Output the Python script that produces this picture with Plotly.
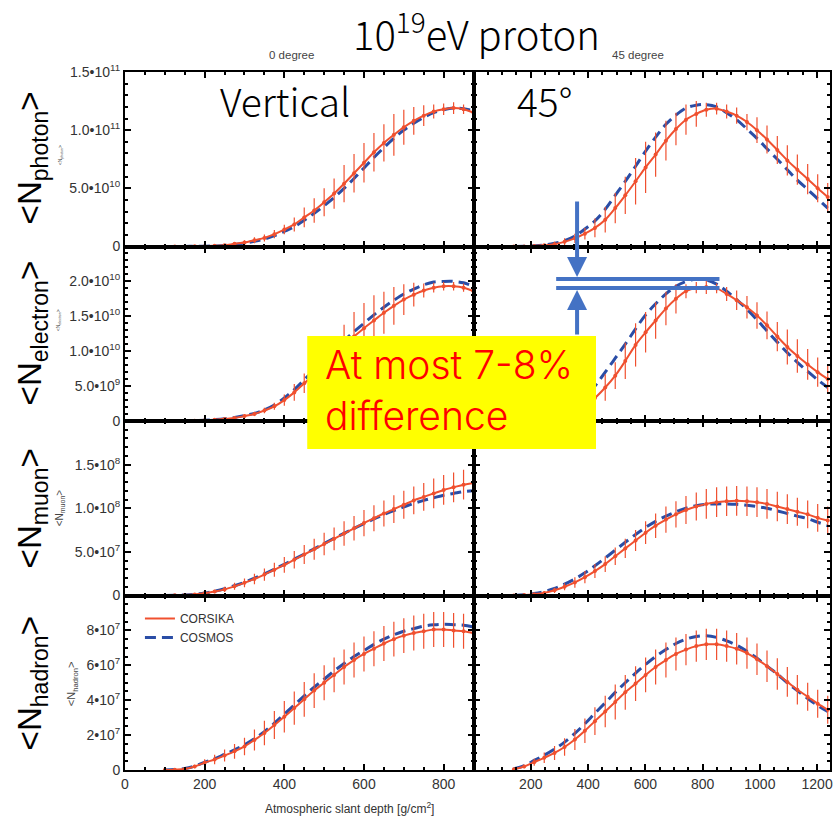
import plotly.graph_objects as go
from plotly.subplots import make_subplots

# vertical depth grid (0 degree) and slant depth grid (45 degree), g/cm2
DEPTH_V = [100, 125, 150, 175, 200, 225, 250, 275, 300, 325, 350, 375, 400, 425, 450, 475,
           500, 525, 550, 575, 600, 625, 650, 675, 700, 725, 750, 775, 800, 825, 850, 875]
SLANT_45 = [141, 177, 212, 247, 283, 318, 354, 389, 424, 460, 495, 530, 566, 601, 636, 672,
            707, 742, 778, 813, 849, 884, 919, 955, 990, 1025, 1061, 1096, 1131, 1167, 1202, 1237]

# photon, units of 1e11
PHOTON_V_CORSIKA = [0, 0, 0.001, 0.002, 0.003, 0.006, 0.01, 0.023, 0.034, 0.054, 0.074, 0.106, 0.146, 0.19, 0.25, 0.31,
                    0.38, 0.455, 0.54, 0.63, 0.72, 0.81, 0.89, 0.96, 1.025, 1.08, 1.125, 1.16, 1.18, 1.19, 1.18, 1.15]
PHOTON_V_COSMOS = [0, 0, 0.001, 0.002, 0.003, 0.005, 0.009, 0.018, 0.028, 0.045, 0.065, 0.093, 0.13, 0.17, 0.225, 0.285,
                   0.35, 0.42, 0.50, 0.585, 0.675, 0.765, 0.85, 0.93, 1.0, 1.06, 1.11, 1.15, 1.175, 1.19, 1.185, 1.165]
PHOTON_V_ERR = [0, 0, 0, 0.002, 0.004, 0.006, 0.01, 0.015, 0.02, 0.025, 0.03, 0.035, 0.04, 0.06, 0.085, 0.105,
                0.12, 0.13, 0.16, 0.165, 0.17, 0.165, 0.16, 0.18, 0.15, 0.12, 0.09, 0.06, 0.05, 0.05, 0.04, 0.04]
PHOTON_45_CORSIKA = [0, 0.001, 0.004, 0.01, 0.02, 0.04, 0.07, 0.11, 0.16, 0.23, 0.33, 0.44, 0.56, 0.68, 0.79, 0.91,
                     1.01, 1.09, 1.14, 1.175, 1.185, 1.16, 1.125, 1.07, 1.0, 0.92, 0.83, 0.74, 0.66, 0.58, 0.50, 0.425]
PHOTON_45_COSMOS = [0, 0.002, 0.006, 0.013, 0.028, 0.05, 0.09, 0.15, 0.22, 0.32, 0.44, 0.56, 0.69, 0.82, 0.94, 1.05,
                    1.13, 1.19, 1.215, 1.22, 1.20, 1.15, 1.09, 1.01, 0.93, 0.84, 0.75, 0.66, 0.57, 0.49, 0.41, 0.33]
PHOTON_45_ERR = [0, 0.002, 0.005, 0.01, 0.02, 0.03, 0.04, 0.05, 0.08, 0.11, 0.13, 0.16, 0.2, 0.22, 0.19, 0.17,
                 0.14, 0.13, 0.11, 0.06, 0.05, 0.06, 0.07, 0.07, 0.11, 0.12, 0.12, 0.13, 0.13, 0.13, 0.12, 0.12]

# electron, units of 1e10
ELECTRON_V_CORSIKA = [0, 0.001, 0.002, 0.005, 0.01, 0.018, 0.03, 0.043, 0.07, 0.10, 0.15, 0.21, 0.30, 0.41, 0.54, 0.66,
                      0.80, 0.94, 1.08, 1.21, 1.33, 1.44, 1.55, 1.65, 1.74, 1.81, 1.87, 1.91, 1.93, 1.93, 1.91, 1.86]
ELECTRON_V_COSMOS = [0, 0.001, 0.003, 0.006, 0.011, 0.02, 0.033, 0.05, 0.08, 0.11, 0.16, 0.23, 0.33, 0.45, 0.59, 0.73,
                     0.87, 1.01, 1.15, 1.28, 1.40, 1.52, 1.63, 1.73, 1.82, 1.89, 1.95, 1.99, 2.0, 2.0, 1.98, 1.93]
ELECTRON_V_ERR = [0, 0, 0, 0.002, 0.005, 0.01, 0.015, 0.02, 0.025, 0.03, 0.04, 0.05, 0.08, 0.12, 0.14, 0.17,
                  0.2, 0.24, 0.3, 0.35, 0.36, 0.36, 0.3, 0.27, 0.22, 0.17, 0.1, 0.07, 0.06, 0.06, 0.06, 0.05]
ELECTRON_45_CORSIKA = [0, 0.003, 0.008, 0.018, 0.035, 0.07, 0.13, 0.22, 0.33, 0.48, 0.65, 0.86, 1.09, 1.27, 1.44, 1.61,
                       1.75, 1.86, 1.91, 1.92, 1.90, 1.82, 1.73, 1.63, 1.51, 1.37, 1.21, 1.06, 0.93, 0.81, 0.70, 0.60]
ELECTRON_45_COSMOS = [0, 0.004, 0.012, 0.028, 0.055, 0.11, 0.2, 0.33, 0.5, 0.70, 0.90, 1.10, 1.32, 1.52, 1.68, 1.82,
                      1.93, 2.0, 2.03, 2.02, 1.96, 1.86, 1.74, 1.60, 1.45, 1.29, 1.13, 0.98, 0.84, 0.71, 0.59, 0.48]
ELECTRON_45_ERR = [0, 0.002, 0.005, 0.01, 0.02, 0.04, 0.07, 0.1, 0.15, 0.19, 0.19, 0.26, 0.31, 0.29, 0.26, 0.24,
                   0.21, 0.1, 0.08, 0.1, 0.07, 0.1, 0.14, 0.16, 0.19, 0.2, 0.21, 0.25, 0.24, 0.22, 0.21, 0.2]

# muon, units of 1e8
MUON_V_CORSIKA = [0, 0.002, 0.005, 0.012, 0.025, 0.045, 0.07, 0.105, 0.145, 0.19, 0.24, 0.295, 0.35, 0.41, 0.47, 0.53,
                  0.59, 0.65, 0.71, 0.77, 0.83, 0.885, 0.94, 0.99, 1.04, 1.09, 1.13, 1.17, 1.21, 1.24, 1.27, 1.29]
MUON_V_COSMOS = [0, 0.002, 0.006, 0.014, 0.028, 0.05, 0.078, 0.112, 0.152, 0.198, 0.248, 0.302, 0.358, 0.416, 0.475, 0.535,
                 0.595, 0.655, 0.713, 0.77, 0.825, 0.877, 0.927, 0.973, 1.015, 1.055, 1.09, 1.12, 1.15, 1.17, 1.19, 1.20]
MUON_V_ERR = [0, 0.002, 0.004, 0.008, 0.012, 0.02, 0.03, 0.04, 0.05, 0.06, 0.07, 0.08, 0.09, 0.1, 0.11, 0.12,
              0.13, 0.13, 0.14, 0.14, 0.15, 0.15, 0.15, 0.16, 0.16, 0.16, 0.16, 0.17, 0.17, 0.17, 0.17, 0.17]
MUON_45_CORSIKA = [0, 0.005, 0.015, 0.03, 0.06, 0.1, 0.15, 0.21, 0.28, 0.36, 0.45, 0.54, 0.63, 0.72, 0.80, 0.87,
                   0.93, 0.98, 1.02, 1.05, 1.07, 1.08, 1.085, 1.08, 1.07, 1.05, 1.02, 0.99, 0.96, 0.93, 0.89, 0.86]
MUON_45_COSMOS = [0, 0.008, 0.022, 0.045, 0.08, 0.13, 0.19, 0.26, 0.34, 0.43, 0.52, 0.61, 0.70, 0.78, 0.85, 0.91,
                  0.96, 1.0, 1.03, 1.045, 1.05, 1.05, 1.045, 1.035, 1.02, 1.0, 0.97, 0.94, 0.91, 0.88, 0.84, 0.80]
MUON_45_ERR = [0, 0.005, 0.01, 0.02, 0.03, 0.04, 0.06, 0.07, 0.08, 0.09, 0.1, 0.11, 0.12, 0.13, 0.14, 0.15,
               0.15, 0.16, 0.16, 0.17, 0.17, 0.17, 0.17, 0.17, 0.17, 0.17, 0.17, 0.17, 0.16, 0.16, 0.16, 0.16]

# hadron, units of 1e7
HADRON_V_CORSIKA = [0, 0.02, 0.06, 0.2, 0.42, 0.6, 0.83, 1.07, 1.35, 1.72, 2.12, 2.58, 3.05, 3.55, 4.05, 4.55,
                    5.0, 5.45, 5.9, 6.3, 6.65, 6.95, 7.25, 7.5, 7.7, 7.85, 7.95, 8.05, 8.05, 8.0, 7.95, 7.85]
HADRON_V_COSMOS = [0, 0.03, 0.08, 0.22, 0.45, 0.65, 0.9, 1.15, 1.45, 1.8, 2.2, 2.68, 3.2, 3.72, 4.25, 4.75,
                   5.2, 5.68, 6.1, 6.5, 6.85, 7.2, 7.5, 7.75, 7.95, 8.1, 8.25, 8.32, 8.35, 8.33, 8.3, 8.2]
HADRON_V_ERR = [0, 0.02, 0.05, 0.1, 0.2, 0.27, 0.35, 0.42, 0.5, 0.6, 0.7, 0.8, 0.9, 0.95, 1.0, 1.0,
                1.0, 1.0, 1.0, 1.0, 1.0, 1.0, 1.0, 1.0, 1.0, 1.0, 1.0, 1.0, 1.0, 1.0, 1.0, 1.0]
HADRON_45_CORSIKA = [0.05, 0.2, 0.45, 0.7, 0.98, 1.32, 1.75, 2.25, 2.8, 3.35, 3.9, 4.45, 4.95, 5.45, 5.9, 6.3,
                     6.65, 6.9, 7.1, 7.2, 7.2, 7.1, 6.95, 6.7, 6.35, 5.95, 5.5, 5.05, 4.6, 4.2, 3.8, 3.45]
HADRON_45_COSMOS = [0.07, 0.25, 0.55, 0.85, 1.2, 1.6, 2.1, 2.65, 3.25, 3.85, 4.45, 5.0, 5.55, 6.05, 6.5, 6.9,
                    7.25, 7.5, 7.65, 7.7, 7.6, 7.4, 7.15, 6.8, 6.4, 5.95, 5.5, 5.0, 4.55, 4.1, 3.7, 3.35]
HADRON_45_ERR = [0.02, 0.1, 0.2, 0.3, 0.4, 0.5, 0.6, 0.7, 0.8, 0.9, 1.0, 1.0, 1.0, 1.0, 1.0, 1.0,
                 0.95, 0.9, 0.9, 0.9, 0.9, 0.9, 0.9, 0.9, 0.9, 0.9, 0.9, 0.85, 0.85, 0.8, 0.8, 0.8]

# y axis tick labels per row
Y_TICKVALS = [[0, 0.5, 1.0, 1.5], [0, 0.5, 1.0, 1.5, 2.0], [0, 0.5, 1.0, 1.5], [0, 2, 4, 6, 8]]
Y_TICKTEXT = [
    ["0", "5.0•10<sup>10</sup>", "1.0•10<sup>11</sup>", "1.5•10<sup>11</sup>"],
    ["0", "5.0•10<sup>9</sup>", "1.0•10<sup>10</sup>", "1.5•10<sup>10</sup>", "2.0•10<sup>10</sup>"],
    ["0", "5.0•10<sup>7</sup>", "1.0•10<sup>8</sup>", "1.5•10<sup>8</sup>"],
    ["0", "2•10<sup>7</sup>", "4•10<sup>7</sup>", "6•10<sup>7</sup>", "8•10<sup>7</sup>"],
]
Y_RANGES = [[0, 1.5], [0, 2.5], [0, 2.0], [0, 10]]
Y_MINOR = [0.1, 0.1, 0.1, 0.5]
PARTICLES = ["photon", "electron", "muon", "hadron"]

RED = "#F0502F"
BLUE = "#2A4DA6"
ARROW_BLUE = "#4472C4"
JP_FONT = "Noto Sans CJK JP"
SANS = "Liberation Sans, Arial"

W, H = 833, 822
ML, MR, MT, MB = 125, 0, 72, 52


def px(x):
    """Pixel x -> paper x."""
    return (x - ML) / (W - ML - MR)


def py(y):
    """Pixel y -> paper y."""
    return (H - MB - y) / (H - MT - MB)


fig = make_subplots(rows=4, cols=2, horizontal_spacing=0, vertical_spacing=0, column_widths=[350, 358])

panels = [
    (1, 1, DEPTH_V, PHOTON_V_CORSIKA, PHOTON_V_COSMOS, PHOTON_V_ERR),
    (1, 2, SLANT_45, PHOTON_45_CORSIKA, PHOTON_45_COSMOS, PHOTON_45_ERR),
    (2, 1, DEPTH_V, ELECTRON_V_CORSIKA, ELECTRON_V_COSMOS, ELECTRON_V_ERR),
    (2, 2, SLANT_45, ELECTRON_45_CORSIKA, ELECTRON_45_COSMOS, ELECTRON_45_ERR),
    (3, 1, DEPTH_V, MUON_V_CORSIKA, MUON_V_COSMOS, MUON_V_ERR),
    (3, 2, SLANT_45, MUON_45_CORSIKA, MUON_45_COSMOS, MUON_45_ERR),
    (4, 1, DEPTH_V, HADRON_V_CORSIKA, HADRON_V_COSMOS, HADRON_V_ERR),
    (4, 2, SLANT_45, HADRON_45_CORSIKA, HADRON_45_COSMOS, HADRON_45_ERR),
]

for row, col, x, corsika, cosmos, err in panels:
    first = (row == 4 and col == 1)
    fig.add_trace(go.Scatter(
        x=x, y=cosmos, mode="lines",
        line=dict(color=BLUE, width=3, dash="11px,6px", shape="spline"),
        name="COSMOS", showlegend=first, legendrank=2,
    ), row=row, col=col)
    fig.add_trace(go.Scatter(
        x=x, y=corsika, mode="markers",
        marker=dict(size=4, color=RED),
        error_y=dict(type="data", array=err, color=RED, thickness=1.2, width=0),
        showlegend=False, hoverinfo="skip",
    ), row=row, col=col)
    fig.add_trace(go.Scatter(
        x=x, y=corsika, mode="lines",
        line=dict(color=RED, width=2, shape="spline"),
        name="CORSIKA", showlegend=first, legendrank=1,
    ), row=row, col=col)

axis_common = dict(
    showline=True, linecolor="black", linewidth=2, mirror="ticks",
    ticks="inside", ticklen=6, tickwidth=1.5, tickcolor="black",
    showgrid=False, zeroline=False, ticklabeloverflow="allow",
    tickfont=dict(family=SANS, size=14, color="#333"),
)

for row in range(1, 5):
    for col in (1, 2):
        if col == 1:
            xr, xt = [0, 875], [0, 200, 400, 600, 800]
        else:
            xr, xt = [0, 1245], [200, 400, 600, 800, 1000, 1200]
        fig.update_xaxes(
            range=xr, tickmode="array", tickvals=xt, showticklabels=(row == 4),
            minor=dict(ticks="inside", ticklen=3, tickcolor="black", tickmode="linear", tick0=0, dtick=50),
            row=row, col=col, **axis_common,
        )
        fig.update_yaxes(
            range=Y_RANGES[row - 1], tickmode="array",
            tickvals=Y_TICKVALS[row - 1], ticktext=Y_TICKTEXT[row - 1],
            showticklabels=(col == 1),
            minor=dict(ticks="inside", ticklen=3, tickcolor="black", tickmode="linear", tick0=0,
                       dtick=Y_MINOR[row - 1]),
            row=row, col=col, **axis_common,
        )

annotations = [
    dict(x=px(478), y=py(31), text="10<sup>19</sup>eV proton",
         font=dict(family=JP_FONT, size=40, color="black", weight=300)),
    dict(x=px(292), y=py(55), text="0 degree", font=dict(family=SANS, size=11.5, color="#444")),
    dict(x=px(640), y=py(55), text="45 degree", font=dict(family=SANS, size=11.5, color="#444")),
    dict(x=px(286), y=py(100), text="Vertical", font=dict(family=JP_FONT, size=39, color="black", weight=300)),
    dict(x=px(546), y=py(100), text="45°", font=dict(family=JP_FONT, size=39, color="black", weight=300)),
    dict(x=px(350), y=py(808), text="Atmospheric slant depth [g/cm<sup>2</sup>]",
         font=dict(family=SANS, size=12, color="#333")),
    dict(x=px(324), y=py(390), xanchor="left", align="left",
         text="At most 7-8%<br>difference", font=dict(family="Inter", size=39, color="#FF0000", weight=300)),
]

big_label_y = [158, 333, 508, 683]
small_label = [(60, 155, 5), (58, 320, 5), (60, 508, 10), (72, 684, 11)]
for name, yc, (sx, sy, ss) in zip(PARTICLES, big_label_y, small_label):
    annotations.append(dict(x=px(32), y=py(yc), textangle=-90,
                            text=f"&lt;N<sub>{name}</sub>&gt;",
                            font=dict(family=SANS, size=33, color="black")))
    annotations.append(dict(x=px(sx), y=py(sy), textangle=-90,
                            text=f"&lt;N<sub>{name}</sub>&gt;",
                            font=dict(family=SANS, size=ss, color="#444")))

for a in annotations:
    a.setdefault("xref", "paper")
    a.setdefault("yref", "paper")
    a.setdefault("xanchor", "center")
    a.setdefault("yanchor", "middle")
    a.setdefault("showarrow", False)

# blue arrows pointing at the two peak levels
annotations.append(dict(x=px(579), y=py(277), xref="paper", yref="paper", text="", showarrow=True,
                        ax=0, ay=-77, arrowcolor=ARROW_BLUE, arrowwidth=4, arrowhead=2, arrowsize=1))
annotations.append(dict(x=px(579), y=py(290), xref="paper", yref="paper", text="", showarrow=True,
                        ax=0, ay=46, arrowcolor=ARROW_BLUE, arrowwidth=4, arrowhead=2, arrowsize=1))

shapes = [
    dict(type="line", xref="paper", yref="paper", x0=px(558), x1=px(722), y0=py(279), y1=py(279),
         line=dict(color=ARROW_BLUE, width=4), layer="above"),
    dict(type="line", xref="paper", yref="paper", x0=px(558), x1=px(722), y0=py(288), y1=py(288),
         line=dict(color=ARROW_BLUE, width=4), layer="above"),
    dict(type="rect", xref="paper", yref="paper", x0=px(308), x1=px(598), y0=py(449), y1=py(336),
         fillcolor="#FFFF00", line=dict(width=0), layer="above"),
]

fig.update_layout(
    width=W, height=H,
    margin=dict(l=ML, r=MR, t=MT, b=MB),
    paper_bgcolor="white", plot_bgcolor="white",
    annotations=annotations, shapes=shapes,
    legend=dict(
        x=px(140), y=py(604), xanchor="left", yanchor="top",
        bgcolor="rgba(0,0,0,0)", tracegroupgap=0,
        font=dict(family=SANS, size=12, color="#333"),
    ),
)

fig.write_html("out.html", config={"displayModeBar": False},
               post_script="document.body.style.margin='0';")
